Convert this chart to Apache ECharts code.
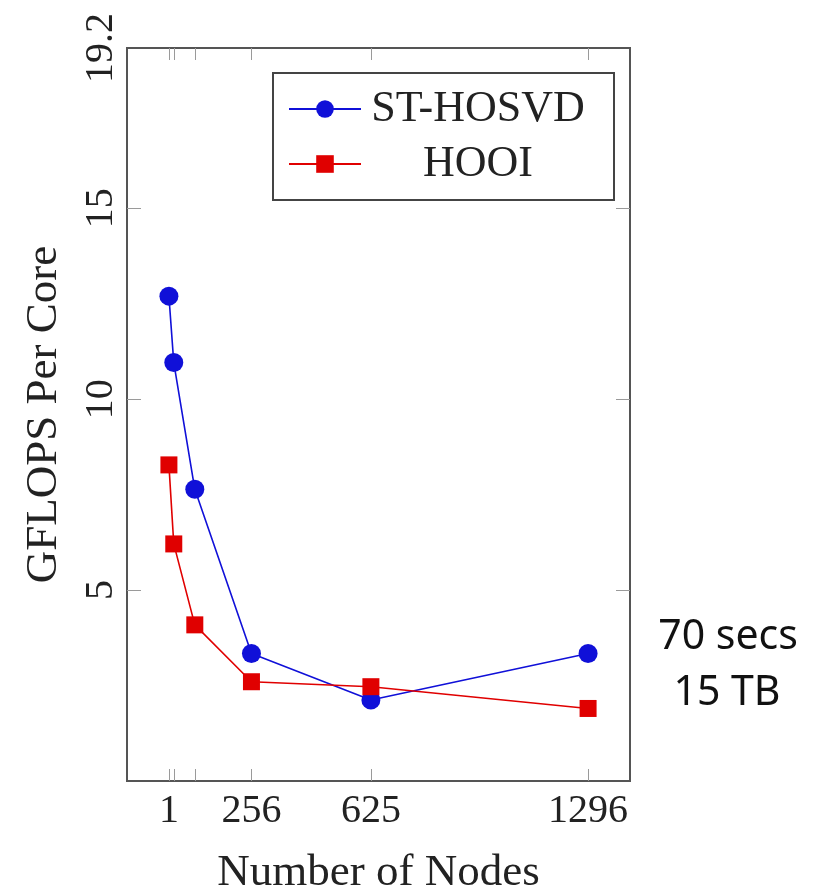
<!DOCTYPE html>
<html>
<head>
<meta charset="utf-8">
<script src="https://cdn.jsdelivr.net/npm/echarts@6/dist/echarts.min.js"></script>
<style>
  html, body { margin: 0; padding: 0; background: #ffffff; }
  #chart { width: 823px; height: 893px; }
</style>
</head>
<body>
<div id="chart"></div>
<script>
// Node counts (fourth powers 1..6) and per-core performance of the two algorithms
const nodes = [1, 16, 81, 256, 625, 1296];
const stHosvd = [12.70, 10.96, 7.64, 3.34, 2.12, 3.34];
const hooi = [8.28, 6.21, 4.09, 2.60, 2.47, 1.90];

const xTickLabels = [1, 256, 625, 1296];
const yTickLabels = [5, 10, 15, 19.2];
const yTickMarks = [5, 10, 15];

const seriesNames = ['ST-HOSVD', 'HOOI'];
const noteLines = ['70 secs', '15 TB'];

const serif = '"Liberation Serif", "DejaVu Serif", serif';
const sans = '"Noto Sans", "Open Sans", sans-serif';
const frameColor = '#555555';
const tickColor = '#9a9a9a';
const blue = '#1010d8';
const red = '#e00000';

const chart = echarts.init(document.getElementById('chart'));

function pairs(xs, ys) {
  return xs.map((x, i) => [x, ys[i]]);
}

const xBase = {
  type: 'value',
  min: -128.5,
  max: 1425.5,
  splitLine: { show: false },
  axisLine: { show: false, onZero: false },
  axisTick: {
    show: true, inside: true, length: 12,
    customValues: nodes,
    lineStyle: { color: tickColor, width: 1 }
  }
};
const yBase = {
  type: 'value',
  min: 0,
  max: 19.2,
  splitLine: { show: false },
  axisLine: { show: false, onZero: false },
  axisTick: {
    show: true, inside: true, length: 14,
    customValues: yTickMarks,
    lineStyle: { color: tickColor, width: 1 }
  }
};

chart.setOption({
  animation: false,
  backgroundColor: '#ffffff',
  grid: {
    left: 127, right: 193, top: 48, bottom: 112,
    outerBoundsMode: 'none',
    containLabel: false,
    show: true, borderColor: frameColor, borderWidth: 2,
    backgroundColor: 'transparent'
  },
  xAxis: [
    Object.assign({}, xBase, {
      position: 'bottom',
      name: 'Number of Nodes',
      nameLocation: 'middle',
      nameGap: 70,
      nameTextStyle: { fontFamily: serif, fontSize: 45, color: '#222222' },
      axisLabel: {
        customValues: xTickLabels,
        formatter: v => String(v),
        margin: 10,
        fontFamily: serif, fontSize: 40, color: '#222222'
      }
    }),
    Object.assign({}, xBase, {
      position: 'top',
      axisLabel: { show: false }
    })
  ],
  yAxis: [
    Object.assign({}, yBase, {
      position: 'left',
      name: 'GFLOPS Per Core',
      nameLocation: 'middle',
      nameGap: 60,
      nameTextStyle: { fontFamily: serif, fontSize: 45, color: '#222222' },
      axisLabel: {
        customValues: yTickLabels,
        formatter: v => String(v),
        rotate: 90,
        margin: 6,
        fontFamily: serif, fontSize: 40, color: '#222222'
      }
    }),
    Object.assign({}, yBase, {
      position: 'right',
      axisLabel: { show: false }
    })
  ],
  legend: {
    left: 273,
    top: 73,
    orient: 'vertical',
    data: seriesNames,
    backgroundColor: '#ffffff',
    borderColor: '#444444',
    borderWidth: 2,
    borderRadius: 0,
    padding: [14, 24, 14, 15],
    itemGap: 11,
    itemWidth: 72,
    itemHeight: 22,
    formatter: name => '{c|' + name + '}',
    textStyle: {
      rich: {
        c: {
          width: 224, align: 'center', lineHeight: 40,
          fontFamily: serif, fontSize: 44, color: '#222222'
        }
      }
    }
  },
  series: [
    {
      name: seriesNames[0],
      type: 'line',
      data: pairs(nodes, stHosvd),
      symbol: 'circle',
      symbolSize: 19,
      lineStyle: { color: blue, width: 1.6 },
      itemStyle: { color: blue }
    },
    {
      name: seriesNames[1],
      type: 'line',
      data: pairs(nodes, hooi),
      symbol: 'rect',
      symbolSize: 17,
      lineStyle: { color: red, width: 1.6 },
      itemStyle: { color: red }
    }
  ],
  graphic: [
    {
      type: 'text',
      x: 728, y: 637,
      style: {
        text: noteLines[0],
        align: 'center', verticalAlign: 'middle',
        fontFamily: sans, fontSize: 41, fill: '#111111'
      }
    },
    {
      type: 'text',
      x: 727, y: 693,
      style: {
        text: noteLines[1],
        align: 'center', verticalAlign: 'middle',
        fontFamily: sans, fontSize: 41, fill: '#111111'
      }
    }
  ]
});
</script>
</body>
</html>
